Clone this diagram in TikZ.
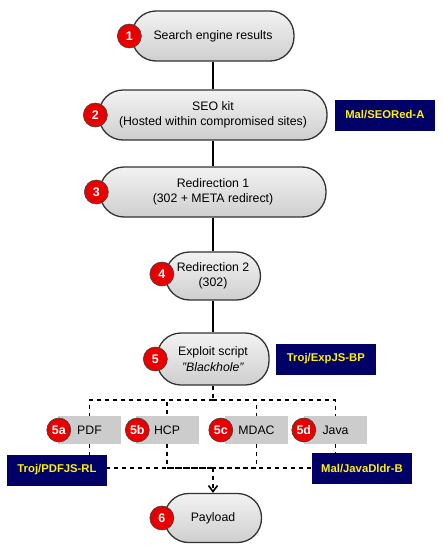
\documentclass[tikz,border=0pt]{standalone}
\usepackage{fontspec}
\setmainfont{Liberation Sans}
\usetikzlibrary{arrows.meta,positioning}
\definecolor{tagnavy}{RGB}{0,0,102}
\definecolor{badgered}{RGB}{232,0,0}

\begin{document}
\begin{tikzpicture}[x=1pt, y=-1pt, every node/.style={font=\fontsize{12.3}{15.5}\selectfont},
  stage/.style={draw=black!80, line width=1.3pt, rounded corners=24pt, top color=black!5, bottom color=black!19, align=center, minimum height=50pt, inner sep=0pt},
  badge/.style={circle, draw=black!75, line width=0.6pt, fill=badgered, text=white, minimum size=24pt, inner sep=0pt, font=\fontsize{12.5}{12.5}\selectfont\bfseries},
  vec/.style={fill=black!20, minimum width=63pt, minimum height=28pt, inner sep=0pt},
  tag/.style={fill=tagnavy, text=yellow, minimum width=100pt, minimum height=31pt, inner sep=0pt, font=\fontsize{11.3}{11.3}\selectfont\bfseries},
  link/.style={line width=1.6pt},
  dots/.style={line width=1.6pt, dash pattern=on 4pt off 4pt},
  arr/.style={dots, -{Straight Barb[length=6pt,width=9pt]}}]
\useasboundingbox (0,0) rectangle (442,549);
\node[stage, minimum width=162pt] (n1) at (213,36) {Search engine results};
\node[badge] (b1) at ([xshift=-2pt]n1.west) {1};
\node[stage, minimum width=228pt] (n2) at (213,115) {SEO kit\\(Hosted within compromised sites)};
\node[badge] (b2) at ([xshift=-3pt]n2.west) {2};
\node[tag, right=7pt of n2] (t2) {Mal/SEORed-A};
\node[stage, minimum width=226pt] (n3) at (213,192) {Redirection 1\\(302 + META redirect)};
\node[badge] (b3) at ([xshift=-3pt]n3.west) {3};
\node[stage, minimum width=95pt, minimum height=48pt] (n4) at (213,276) {Redirection 2\\(302)};
\node[badge] (b4) at ([xshift=-3pt,yshift=2pt]n4.west) {4};
\node[stage, minimum width=112pt, minimum height=52pt] (n5) at (213,359) {Exploit script\\\textit{"Blackhole"}};
\node[badge] (b5) at ([xshift=-1pt]n5.west) {5};
\node[tag, right=6pt of n5] (t5) {Troj/ExpJS-BP};
\node[vec] (v5a) at (89.5,430) {PDF};
\node[badge] (b5a) at ([xshift=1pt]v5a.west) {5a};
\node[vec] (v5b) at (167,430) {HCP};
\node[badge] (b5b) at ([xshift=2pt]v5b.west) {5b};
\node[vec] (v5c) at (256.5,430) {MDAC};
\node[badge] (b5c) at ([xshift=-4pt]v5c.west) {5c};
\node[vec] (v5d) at (335.5,430) {Java};
\node[badge] (b5d) at (v5d.west) {5d};
\node[stage, minimum width=97pt, minimum height=49pt] (n6) at (213,518) {Payload};
\node[badge] (b6) at ([xshift=-2pt]n6.west) {6};
\draw[link] (n1) -- (n2); \draw[link] (n2) -- (n3); \draw[link] (n3) -- (n4); \draw[link] (n4) -- (n5);
\coordinate (split) at (n5.south |- 0,400);
\coordinate (merge) at (n6.north |- 0,468);
\draw[dots] (n5.south) -- (split); \draw[dots] (split) -| (v5a.north); \draw[dots] (split) -| (v5b.north); \draw[dots] (split) -| (v5c.north); \draw[dots] (split) -| (v5d.north);
\draw[dots] (v5a.south) |- (merge); \draw[dots] (v5b.south) |- (merge); \draw[dots] (v5c.south) |- (merge); \draw[dots] (v5d.south) |- (merge);
\draw[arr] (merge) -- (n6.north);
\node[tag] (t5a) at (57,470) {Troj/PDFJS-RL};
\node[tag] (t5d) at (362,468.5) {Mal/JavaDldr-B};
\end{tikzpicture}
\end{document}
